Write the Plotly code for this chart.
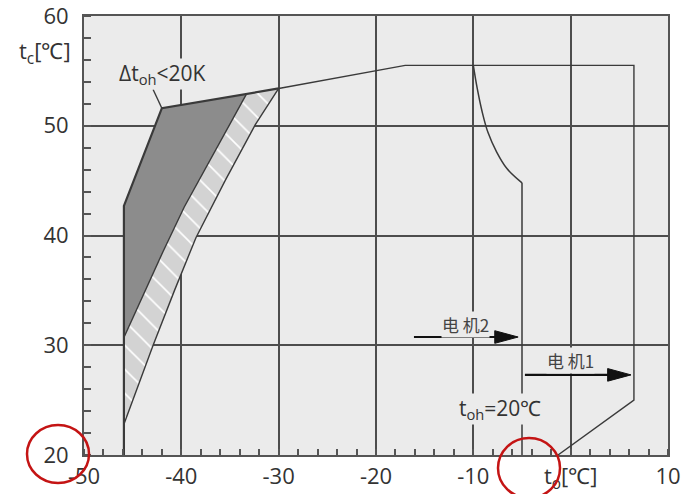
import plotly.graph_objects as go

# ---------------- data ----------------
x_tickvals = [-50, -40, -30, -20, -10, 0, 10]
x_ticktext = ["-50", "-40", "-30", "-20", "-10", "t<sub>o</sub>[℃]", "10"]
y_tickvals = [20, 30, 40, 50, 60]
y_ticktext = ["20", "30", "40", "50", "60"]

# outer envelope, thick part (left & top edge of the dark zone)
env_thick_x = [-45.9, -45.9, -42.0, -30.0]
env_thick_y = [20.0, 42.7, 51.6, 53.4]
# outer envelope, thin part (top line, motor 1 limit)
env_thin_x = [-30.0, -17.0, 6.5, 6.5, -1.3]
env_thin_y = [53.4, 55.5, 55.5, 25.0, 20.0]

# right edge of dark zone (top -> bottom)
dark_edge_x = [-33.3, -35.1, -37.4, -39.7, -41.9, -44.0, -45.9]
dark_edge_y = [52.9, 50.0, 46.3, 42.6, 38.5, 34.4, 30.7]

# right edge of hatched zone (top -> bottom)
hatch_edge_x = [-30.0, -31.2, -32.4, -35.5, -38.5, -40.7, -42.9, -44.4, -45.9]
hatch_edge_y = [53.4, 51.8, 50.1, 45.0, 39.8, 35.0, 30.0, 26.4, 22.8]

# motor 2 limit
m2_curve_x = [-10.0, -9.6, -9.1, -8.5, -7.6, -6.55, -5.0]
m2_curve_y = [55.5, 53.4, 51.3, 49.4, 47.6, 46.1, 44.8]
m2_vert_x = [-5.0, -5.0]
m2_vert_y = [44.8, 20.0]

# leader line of the Δt label
leader_x = [-42.9, -42.0]
leader_y = [53.3, 51.6]

# arrows
arrow_labels = ["电 机2", "电 机1"]
arrow_x0 = [-16.1, -4.7]
arrow_x1 = [-5.4, 6.2]
arrow_y = [30.75, 27.3]
arrow_label_x = [-10.8, 0.0]
arrow_label_y = [31.9, 28.6]

# text labels
dt_label = ("Δt<sub>oh</sub>&lt;20K", -41.9, 54.75)
toh_label = ("t<sub>oh</sub>=20℃", -7.25, 24.2)
tc_label = ("t<sub>c</sub>[℃]", 56.7)

# ---------------- styles ----------------
PLOT_BG = "#ebebeb"
LINE = "#3a3a3a"
TXT = "#333333"
FONT = "Open Sans"

fig = go.Figure()

# dark zone
fig.add_trace(go.Scatter(
    x=[env_thick_x[1], env_thick_x[2]] + dark_edge_x,
    y=[env_thick_y[1], env_thick_y[2]] + dark_edge_y,
    mode="lines", fill="toself", fillcolor="#8c8c8c",
    line=dict(width=0), hoverinfo="skip", showlegend=False))

# hatched zone
fig.add_trace(go.Scatter(
    x=dark_edge_x + [hatch_edge_x[-1]] + hatch_edge_x[::-1],
    y=dark_edge_y + [hatch_edge_y[-1]] + hatch_edge_y[::-1],
    mode="lines", fill="toself", fillcolor="#d3d3d3",
    fillpattern=dict(shape="\\", fgcolor="#ffffff", bgcolor="#d3d3d3",
                     size=17, solidity=0.1, fillmode="replace"),
    line=dict(width=0), hoverinfo="skip", showlegend=False))

def add_line(xs, ys, width, shape="linear", color=LINE):
    fig.add_trace(go.Scatter(x=xs, y=ys, mode="lines",
                             line=dict(color=color, width=width, shape=shape),
                             hoverinfo="skip", showlegend=False))

add_line(dark_edge_x, dark_edge_y, 1.4)
add_line(hatch_edge_x, hatch_edge_y, 1.4)
add_line(env_thick_x, env_thick_y, 2.2)
add_line(env_thin_x, env_thin_y, 1.4)
add_line(m2_curve_x, m2_curve_y, 1.5, shape="spline")
add_line(m2_vert_x, m2_vert_y, 1.5)
add_line(leader_x, leader_y, 1.4)

# arrows
HEAD_L = 2.4   # head length in x units
HEAD_H = 1.15  # head height in y units
for x0, x1, y in zip(arrow_x0, arrow_x1, arrow_y):
    add_line([x0, x1 - HEAD_L + 0.2], [y, y], 2.2, color="#111111")
    fig.add_trace(go.Scatter(
        x=[x1, x1 - HEAD_L, x1 - HEAD_L, x1],
        y=[y, y + HEAD_H / 2, y - HEAD_H / 2, y],
        mode="lines", fill="toself", fillcolor="#111111",
        line=dict(color="#111111", width=1), hoverinfo="skip", showlegend=False))

annotations = []
for t, lx, ly in zip(arrow_labels, arrow_label_x, arrow_label_y):
    annotations.append(dict(x=lx, y=ly, xref="x", yref="y", text=t, showarrow=False,
                            font=dict(family="Noto Sans CJK SC", size=17, color="#444444"),
                            bgcolor=PLOT_BG, borderpad=0))
for t, lx, ly in [dt_label, toh_label]:
    annotations.append(dict(x=lx, y=ly, xref="x", yref="y", text=t, showarrow=False,
                            font=dict(family=FONT, size=21, color=TXT),
                            bgcolor=PLOT_BG, borderpad=0))
annotations.append(dict(x=-0.018, y=tc_label[1], xref="paper", yref="y", text=tc_label[0],
                        showarrow=False, xanchor="right",
                        font=dict(family=FONT, size=22, color=TXT)))

# red hand-drawn marks
shapes = [
    dict(type="circle", xref="paper", yref="paper", x0=-0.0976, x1=0.0086,
         y0=-0.0638, y1=0.0683, line=dict(color="#c41414", width=2.5)),
    dict(type="circle", xref="paper", yref="paper", x0=0.7089, x1=0.8151,
         y0=-0.0979, y1=0.0387, line=dict(color="#c41414", width=2.5)),
]

axis_common = dict(
    showgrid=True, gridcolor="#4d4d4d", gridwidth=1.5, zeroline=False,
    showline=True, linecolor="#555555", linewidth=2, mirror=True, ticks="",
    tickfont=dict(family=FONT, size=22, color=TXT), automargin=False,
    ticklabeloverflow="allow",
)

fig.update_layout(
    width=682, height=494,
    margin=dict(l=84, r=14, t=16, b=39),
    paper_bgcolor="white", plot_bgcolor=PLOT_BG,
    xaxis=dict(range=[-50, 10], tickmode="array", tickvals=x_tickvals, ticktext=x_ticktext,
               ticklabelstandoff=1,
               minor=dict(tickmode="linear", tick0=-50, dtick=2, ticks="inside", ticklen=6,
                          tickcolor="#555555", tickwidth=1.5, showgrid=False),
               **axis_common),
    yaxis=dict(range=[20, 60], tickmode="array", tickvals=y_tickvals, ticktext=y_ticktext,
               ticklabelstandoff=9,
               minor=dict(tickmode="linear", tick0=20, dtick=2, ticks="inside", ticklen=7,
                          tickcolor="#555555", tickwidth=1.5, showgrid=False),
               **axis_common),
    annotations=annotations,
    shapes=shapes,
    showlegend=False,
)

fig.write_html("out.html", config={"displayModeBar": False},
               post_script="document.body.style.margin='0';document.body.style.overflow='hidden';")
